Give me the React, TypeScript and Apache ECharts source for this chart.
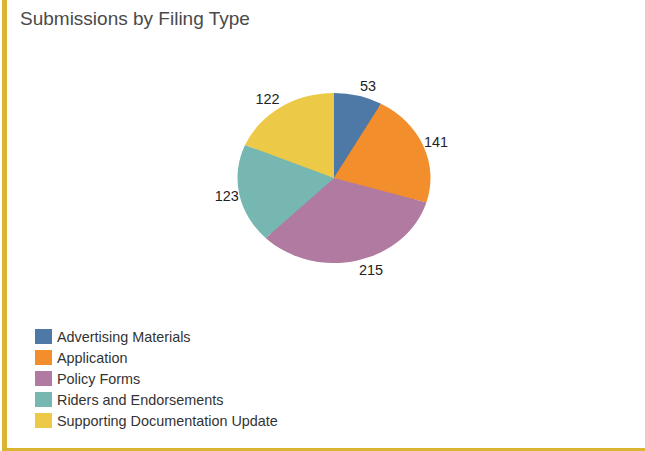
import React, { useEffect, useRef } from "react";
import * as echarts from "echarts";

const categories = [
  "Advertising Materials",
  "Application",
  "Policy Forms",
  "Riders and Endorsements",
  "Supporting Documentation Update",
];
const counts = [53, 141, 215, 123, 122];
const colors = ["#4e79a7", "#f28e2b", "#b07aa1", "#76b7b2", "#edc948"];
const titleText = "Submissions by Filing Type";

const FONT = 'Arial, "Liberation Sans", Helvetica, sans-serif';
const CX = 334;
const CY = 178;
const RY = 85;
const RX = 96.5;

export default function App() {
  const backRef = useRef<HTMLDivElement>(null);
  const frontRef = useRef<HTMLDivElement>(null);

  useEffect(() => {
    const back = echarts.init(backRef.current!, null, { renderer: "svg" });
    const front = echarts.init(frontRef.current!, null, { renderer: "svg" });
    const data = categories.map((name, i) => ({
      name,
      value: counts[i],
      itemStyle: { color: colors[i] },
    }));

    back.setOption({
      animation: false,
      title: {
        text: titleText,
        left: 20,
        top: 9,
        padding: 0,
        textStyle: {
          fontFamily: FONT,
          fontSize: 19,
          fontWeight: "normal",
          color: "#4a4a4a",
        },
      },
      legend: {
        orient: "vertical",
        left: 35,
        top: 329,
        padding: 0,
        itemWidth: 17,
        itemHeight: 15,
        itemGap: 6,
        icon: "rect",
        data: categories,
        textStyle: { fontFamily: FONT, fontSize: 14.4, color: "#333" },
      },
      series: [
        {
          type: "pie",
          center: [CX, CY],
          radius: RY - 1,
          startAngle: 90,
          clockwise: true,
          avoidLabelOverlap: false,
          silent: true,
          data,
          label: {
            show: true,
            position: "outside",
            formatter: "{c}",
            fontFamily: FONT,
            fontSize: 14.4,
            color: "#222",
            distanceToLabelLine: 2,
          },
          labelLine: { show: false, length: 11, length2: 0 },
        },
      ],
    });

    front.setOption({
      animation: false,
      series: [
        {
          type: "pie",
          center: [100, 90],
          radius: RY,
          startAngle: 90,
          clockwise: true,
          silent: true,
          data,
          label: { show: false },
          labelLine: { show: false },
        },
      ],
    });

    return () => {
      back.dispose();
      front.dispose();
    };
  }, []);

  const sx = RX / RY;
  return (
    <div>
      <div
        ref={backRef}
        style={{ position: "absolute", left: 0, top: 0, width: 645, height: 451 }}
      />
      <div
        ref={frontRef}
        style={{
          position: "absolute",
          left: CX - 100,
          top: CY - 90,
          width: 200,
          height: 180,
          transformOrigin: "100px 90px",
          transform: `scaleX(${sx})`,
          pointerEvents: "none",
        }}
      />
      <div
        style={{
          position: "absolute",
          left: 2,
          top: 0,
          width: 5,
          height: 451,
          background: "#d9b530",
        }}
      />
      <div
        style={{
          position: "absolute",
          left: 2,
          top: 448,
          width: 643,
          height: 3,
          background: "#d9b530",
        }}
      />
    </div>
  );
}
